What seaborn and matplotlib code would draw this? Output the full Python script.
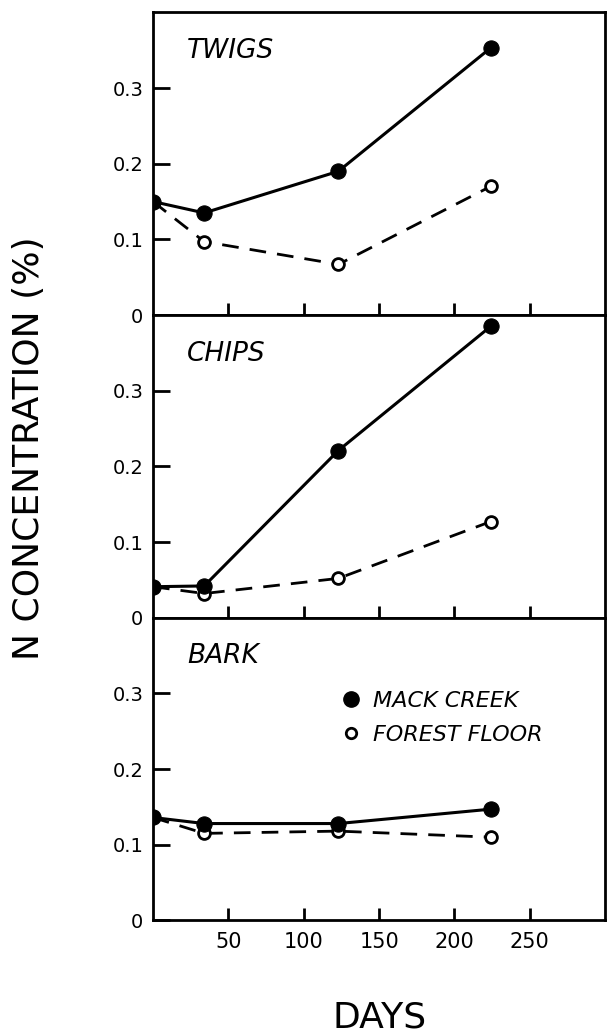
import numpy as np
import pandas as pd
import matplotlib
matplotlib.use("Agg")
import matplotlib.pyplot as plt
import seaborn as sns
from matplotlib.lines import Line2D

sns.set_style("ticks")
plt.rcParams['font.family'] = ['DejaVu Sans']
plt.rcParams['text.color'] = 'black'
plt.rcParams['xtick.color'] = 'black'
plt.rcParams['ytick.color'] = 'black'

# sampling days and N concentration (%)
days = [0, 34, 123, 224]
panels = ["TWIGS", "CHIPS", "BARK"]
mack_creek = {
    "TWIGS": [0.150, 0.135, 0.190, 0.353],
    "CHIPS": [0.041, 0.042, 0.221, 0.385],
    "BARK": [0.136, 0.128, 0.128, 0.147],
}
forest_floor = {
    "TWIGS": [0.150, 0.097, 0.067, 0.170],
    "CHIPS": [0.041, 0.032, 0.052, 0.127],
    "BARK": [0.136, 0.115, 0.118, 0.110],
}
y_ticks = [0, 0.1, 0.2, 0.3]
y_tick_labels = ["0", "0.1", "0.2", "0.3"]
x_ticks = [50, 100, 150, 200, 250]

rows = []
for p in panels:
    for d, v in zip(days, mack_creek[p]):
        rows.append((p, "MACK CREEK", d, v))
    for d, v in zip(days, forest_floor[p]):
        rows.append((p, "FOREST FLOOR", d, v))
df = pd.DataFrame(rows, columns=["material", "site", "day", "n"])

fig, axes = plt.subplots(3, 1, figsize=(6.07, 10.33), dpi=100, sharex=True)
fig.subplots_adjust(left=0.252, right=0.997, top=0.988, bottom=0.109, hspace=0)

for ax, p in zip(axes, panels):
    sub = df[df.material == p]
    sns.lineplot(data=sub[sub.site == "FOREST FLOOR"], x="day", y="n", ax=ax,
                 color="black", lw=2, marker="o", markersize=8.5,
                 markerfacecolor="white", markeredgecolor="black",
                 markeredgewidth=2, zorder=3)
    ax.lines[-1].set_dashes((6, 4))
    sns.lineplot(data=sub[sub.site == "MACK CREEK"], x="day", y="n", ax=ax,
                 color="black", lw=2.2, marker="o", markersize=11,
                 markerfacecolor="black", markeredgecolor="black", zorder=4)
    ax.set_xlim(0, 300)
    ax.set_ylim(0, 0.4)
    ax.set_yticks(y_ticks)
    ax.set_yticklabels(y_tick_labels)
    ax.set_xticks(x_ticks)
    ax.tick_params(axis="y", direction="in", length=12, width=2, labelsize=14, pad=7)
    ax.tick_params(axis="x", direction="in", length=9, width=2, labelsize=15, pad=8)
    ax.set_xlabel("")
    ax.set_ylabel("")
    for s in ax.spines.values():
        s.set_linewidth(2)
        s.set_color("black")
    ax.text(0.075, 0.915, p, transform=ax.transAxes, fontsize=19,
            fontstyle="italic", ha="left", va="top")

axes[-1].set_xticklabels([str(t) for t in x_ticks])

handles = [
    Line2D([], [], ls="none", marker="o", markersize=11, color="black"),
    Line2D([], [], ls="none", marker="o", markersize=7.5, markerfacecolor="white",
           markeredgecolor="black", markeredgewidth=2),
]
leg = axes[-1].legend(handles, ["MACK CREEK", "FOREST FLOOR"], loc="upper left",
                      bbox_to_anchor=(0.375, 0.825), frameon=False, handlelength=0.8,
                      handletextpad=0.55, labelspacing=0.65,
                      prop={"size": 16, "style": "italic"})

fig.text(0.047, 0.566, "N CONCENTRATION (%)", rotation=90, ha="center",
         va="center", fontsize=26)
fig.text(0.625, 0.015, "DAYS", ha="center", va="center", fontsize=26)

fig.savefig("out.png", dpi=100)
